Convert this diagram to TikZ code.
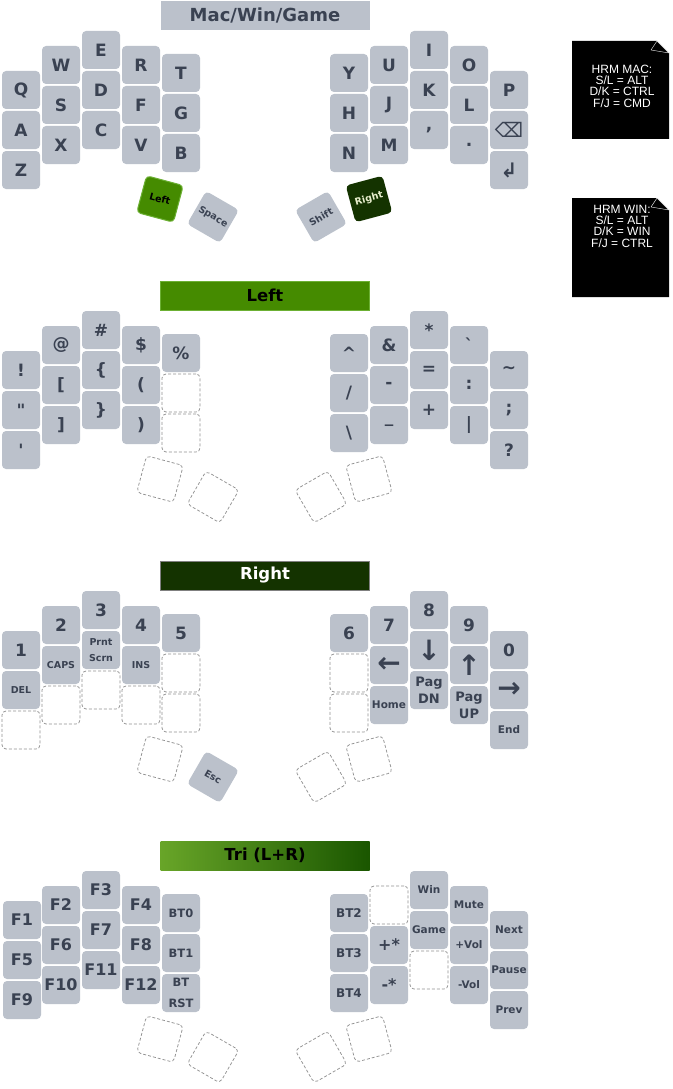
\documentclass[tikz,border=0pt]{standalone}
\usepackage{fontspec}
\setmainfont{DejaVu Sans}
\newfontfamily\notefont{Liberation Sans}
\newfontfamily\symfont{DejaVu Sans}
\usetikzlibrary{calc}

\definecolor{keygrey}{RGB}{187,193,203}
\definecolor{keytext}{RGB}{58,66,82}
\definecolor{dashgrey}{RGB}{145,145,145}
\definecolor{leftgreen}{RGB}{69,139,0}
\definecolor{leftedge}{RGB}{108,176,52}
\definecolor{rightgreen}{RGB}{20,51,0}
\definecolor{rightlabel}{RGB}{232,238,205}
\definecolor{trilight}{RGB}{104,165,40}
\definecolor{tridark}{RGB}{26,86,0}

\newcommand{\kbig}{\fontsize{17}{19}\selectfont\bfseries}
\newcommand{\ksmall}{\fontsize{9.5}{11}\selectfont\bfseries}
\newcommand{\kmid}{\fontsize{10.5}{12}\selectfont\bfseries}
\newcommand{\kprnt}{\fontsize{9.5}{16.5}\selectfont\bfseries}
\newcommand{\kpag}{\fontsize{13}{17}\selectfont\bfseries}
\newcommand{\kbt}{\fontsize{11.5}{21}\selectfont\bfseries}
\newcommand{\kbtr}{\fontsize{12}{14}\selectfont\bfseries}
\newcommand{\kfn}{\fontsize{16}{19}\selectfont\bfseries}
\newcommand{\karrow}{\fontsize{28}{30}\selectfont\bfseries}
\newcommand{\ksym}{\symfont\fontsize{20}{22}\selectfont}
\newcommand{\kbar}{\fontsize{16.5}{18}\selectfont\bfseries}

\tikzset{key/.style = {shape=rectangle, rounded corners=4pt, fill=keygrey, text=keytext,
    minimum size=38pt, inner sep=0pt, align=center, font=\kbig}}
\tikzset{blank/.style = {shape=rectangle, rounded corners=4pt, draw=dashgrey, line width=0.75pt,
    dash pattern=on 3pt off 2pt, minimum size=38pt, inner sep=0pt}}
\tikzset{bar/.style = {shape=rectangle, minimum width=209pt, minimum height=29pt,
    inner sep=0pt, font=\kbar}}
\tikzset{note/.style = {text=white, align=center, inner sep=0pt,
    font={\notefont\fontsize{12}{11.3}\selectfont}}}

\begin{document}
\begin{tikzpicture}[x=1pt, y=-1pt]
  \useasboundingbox (0,0) rectangle (672,1089);

  % key centres of the four layers
  \foreach \s/\dy in {m/0, l/280, r/560, t/840} {
    \foreach \c/\x/\y in {0/21/90, 1/61/65, 2/101/50, 3/141/65, 4/181/73,
                          5/349/73, 6/389/65, 7/429/50, 8/469/65, 9/509/90} {
      \foreach \r in {0,1,2} {
        \coordinate (\s\c\r) at (\x, {\y+\dy+40*\r});
      }
    }
    \coordinate (\s-a) at (160, {199+\dy});
    \coordinate (\s-b) at (213, {217+\dy});
    \coordinate (\s-c) at (321, {217+\dy});
    \coordinate (\s-d) at (369, {199+\dy});
  }
  % outer column of the tri layer sits higher
  \foreach \r in {0,1,2} {
    \coordinate (t0\r) at (22, {920+40*\r});
  }

  % layer titles
  \node[bar, fill=keygrey, text=keytext, font=\fontsize{18}{20}\selectfont\bfseries] (mbar) at (265,15.5) {Mac/Win/Game};
  \node[bar, fill=leftgreen, draw=leftedge, text=black] (lbar) at (265,295.5) {Left};
  \node[bar, fill=rightgreen, draw=gray, text=white] (rbar) at (265,575.5) {Right};
  \node[bar, left color=trilight, right color=tridark, text=black] (tbar) at (265,855.5) {Tri (L+R)};

  % Mac/Win/Game
  \foreach \c/\r/\t in {0/0/Q, 0/1/A, 0/2/Z, 1/0/W, 1/1/S, 1/2/X, 2/0/E, 2/1/D, 2/2/C,
      3/0/R, 3/1/F, 3/2/V, 4/0/T, 4/1/G, 4/2/B, 5/0/Y, 5/1/H, 5/2/N, 6/0/U, 6/1/J, 6/2/M,
      7/0/I, 7/1/K, 7/2/{,}, 8/0/O, 8/1/L, 8/2/., 9/0/P}
    \node[key] (km\c\r) at (m\c\r) {\t};
  \node[key, font=\ksym] (km91) at (m91) {⌫};
  \node[key, font=\ksym\bfseries] (km92) at (m92) {↲};
  \node[key, rotate=-15, fill=leftgreen, draw=leftedge, line width=1pt, text=black,
        font=\ksmall] (kma) at (m-a) {Left};
  \node[key, rotate=-30, font=\ksmall] (kmb) at (m-b) {Space};
  \node[key, rotate=30, font=\ksmall] (kmc) at (m-c) {Shift};
  \node[key, rotate=15, fill=rightgreen, text=rightlabel, font=\ksmall] (kmd) at (m-d) {Right};

  % notes
  \fill (572,41) -- (657,41) -- (669,53) -- (669,139) -- (572,139) -- cycle;
  \draw[white, fill=black, line join=round] (657,41) -- (651,50) -- (669,53) -- cycle;
  \node[note] (hrmmac) at (622,86) {HRM MAC:\\S/L = ALT\\D/K = CTRL\\F/J = CMD};
  \fill (572,198) -- (657,198) -- (669,210) -- (669,297) -- (572,297) -- cycle;
  \draw[white, fill=black, line join=round] (657,198) -- (651,207) -- (669,210) -- cycle;
  \node[note] (hrmwin) at (622,226) {HRM WIN:\\S/L = ALT\\D/K = WIN\\F/J = CTRL};

  % Left
  \foreach \c/\r/\t in {0/0/!, 0/1/\textquotedbl, 0/2/\textquotesingle, 1/0/@, 1/1/[, 1/2/],
      2/0/\#, 2/1/\{, 2/2/\}, 3/0/\$, 3/1/(, 3/2/), 4/0/\%,
      5/0/\textasciicircum, 5/1/{/}, 5/2/\textbackslash, 6/0/\&, 6/1/-, 6/2/\_,
      7/0/*, 7/1/=, 7/2/+, 8/0/\textasciigrave, 8/1/:, 8/2/|,
      9/0/\textasciitilde, 9/1/;, 9/2/?}
    \node[key] (kl\c\r) at (l\c\r) {\t};
  \foreach \p in {41, 42}
    \node[blank] (kl\p) at (l\p) {};
  \foreach \p/\a in {a/-15, b/-30, c/30, d/15}
    \node[blank, rotate=\a] (kl\p) at (l-\p) {};

  % Right
  \foreach \c/\t in {0/1, 1/2, 2/3, 3/4, 4/5, 5/6, 6/7, 7/8, 8/9, 9/0}
    \node[key] (kr\c0) at (r\c0) {\t};
  \node[key, font=\ksmall] (kr01) at (r01) {DEL};
  \node[key, font=\ksmall] (kr11) at (r11) {CAPS};
  \node[key, font=\kprnt] (kr21) at (r21) {Prnt\\Scrn};
  \node[key, font=\ksmall] (kr31) at (r31) {INS};
  \node[key, font=\karrow] (kr61) at (r61) {←};
  \node[key, font=\karrow] (kr71) at (r71) {↓};
  \node[key, font=\karrow] (kr81) at (r81) {↑};
  \node[key, font=\karrow] (kr91) at (r91) {→};
  \node[key, font=\kmid] (kr62) at (r62) {Home};
  \node[key, font=\kpag] (kr72) at (r72) {Pag\\DN};
  \node[key, font=\kpag] (kr82) at (r82) {Pag\\UP};
  \node[key, font=\kmid] (kr92) at (r92) {End};
  \foreach \p in {02, 12, 22, 32, 41, 42, 51, 52}
    \node[blank] (kr\p) at (r\p) {};
  \node[blank, rotate=-15] (kra) at (r-a) {};
  \node[key, rotate=-30, font=\ksmall] (krb) at (r-b) {Esc};
  \node[blank, rotate=30] (krc) at (r-c) {};
  \node[blank, rotate=15] (krd) at (r-d) {};

  % Tri (L+R)
  \foreach \c/\r/\t in {0/0/F1, 0/1/F5, 0/2/F9, 1/0/F2, 1/1/F6, 1/2/F10,
      2/0/F3, 2/1/F7, 2/2/F11, 3/0/F4, 3/1/F8, 3/2/F12, 6/1/+*, 6/2/-*}
    \node[key, font=\kfn] (kt\c\r) at (t\c\r) {\t};
  \node[key, font=\kbt] (kt40) at (t40) {BT0};
  \node[key, font=\kbt] (kt41) at (t41) {BT1};
  \node[key, font=\kbt] (kt42) at (t42) {BT\\RST};
  \foreach \r/\t in {0/BT2, 1/BT3, 2/BT4}
    \node[key, font=\kbtr] (kt5\r) at (t5\r) {\t};
  \foreach \c/\r/\t in {7/0/Win, 7/1/Game, 8/0/Mute, 8/1/+Vol, 8/2/-Vol,
      9/0/Next, 9/1/Pause, 9/2/Prev}
    \node[key, font=\kmid] (kt\c\r) at (t\c\r) {\t};
  \foreach \p in {60, 72}
    \node[blank] (kt\p) at (t\p) {};
  \foreach \p/\a in {a/-15, b/-30, c/30, d/15}
    \node[blank, rotate=\a] (kt\p) at (t-\p) {};
\end{tikzpicture}
\end{document}
